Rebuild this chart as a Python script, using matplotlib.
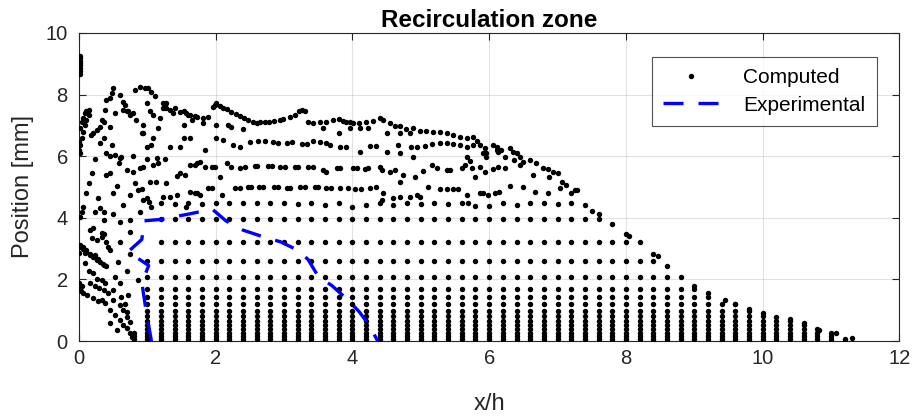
import matplotlib
matplotlib.use("Agg")
import matplotlib.pyplot as plt
import numpy as np

# ---------------- data ----------------
# regular mesh nodes inside the recirculation zone
mesh_cols = [0.8, 1.0, 1.2, 1.4, 1.6, 1.8, 2.0, 2.2, 2.4, 2.6, 2.8, 3.0, 3.2, 3.4, 3.6,
             3.8, 4.0, 4.2, 4.4, 4.6, 4.8, 5.0, 5.2, 5.4, 5.6, 5.8, 6.0, 6.2, 6.4, 6.6,
             6.8, 7.0, 7.2, 7.4, 7.6, 7.8, 8.0, 8.2, 8.4, 8.6, 8.8, 9.0, 9.2, 9.4, 9.6,
             9.8, 10.0, 10.2, 10.4, 10.6, 10.8, 11.0, 11.2]
mesh_rows = [0.0, 0.07, 0.16, 0.27, 0.38, 0.52, 0.66, 0.81, 0.98, 1.19, 1.42, 1.69,
             2.07, 2.60, 3.22, 3.95]
row_xmin = [0.8, 0.8, 0.8, 0.8, 1.0, 1.0, 1.0, 1.0, 1.0, 1.0, 1.0, 1.0, 1.0, 1.0, 1.2, 1.2]
row_xmax = [11.2, 11.2, 11.0, 11.0, 10.8, 10.6, 10.4, 10.0, 9.8, 9.6, 9.2, 9.0, 8.8, 8.4, 8.2, 7.6]

# off-grid points along the right-hand boundary
edge_x = [11.3, 11.07, 10.83, 10.6, 10.4, 10.2, 10.0, 9.8, 9.6, 9.45, 9.2, 9.0, 8.6, 8.47,
          8.4, 8.05, 8.0, 7.8, 7.6, 7.5, 7.4, 7.2, 7.25]
edge_y = [0.1, 0.27, 0.36, 0.59, 0.71, 0.77, 0.9, 1.03, 1.2, 1.33, 1.55, 1.78, 2.43, 2.75,
          2.82, 3.4, 3.46, 3.79, 4.12, 4.23, 4.41, 4.79, 4.9]

# row near y = 4.5
band45_x = [1.2, 1.4, 1.6, 1.8, 2.0, 2.2, 2.4, 2.6, 2.8, 3.0, 3.2, 3.4, 3.6, 3.8, 4.0, 4.2,
            4.4, 4.6, 4.8, 5.0, 5.2, 5.4, 5.6, 5.8, 6.0, 6.2, 6.4, 6.6, 6.8, 7.0, 7.2]
band45_y = [4.47, 4.45, 4.47, 4.44, 4.47, 4.47, 4.49, 4.47, 4.47, 4.47, 4.45, 4.47, 4.42, 4.47,
            4.36, 4.42, 4.47, 4.42, 4.47, 4.45, 4.47, 4.44, 4.47, 4.38, 4.38, 4.47, 4.41, 4.49,
            4.47, 4.45, 4.49]

# row near y = 5.0
band50_x = [1.62, 1.72, 1.77, 1.89, 1.94, 2.09, 2.28, 2.35, 2.47, 2.52, 2.64, 2.69, 2.86, 2.91,
            3.04, 3.08, 3.23, 3.3, 3.45, 3.5, 3.62, 3.69, 3.82, 3.94, 4.04, 4.13, 4.25, 4.35,
            4.45, 4.43, 4.6, 4.69, 4.84, 4.94, 4.99, 5.11, 5.28, 5.38, 5.47, 5.55, 5.67, 5.69,
            5.86, 5.91, 5.98, 6.08, 6.15, 6.3, 6.5, 6.67, 6.86, 7.28]
band50_y = [4.85, 4.79, 4.74, 4.96, 4.96, 4.74, 4.96, 4.96, 4.99, 4.99, 4.99, 4.99, 4.99, 4.99,
            4.96, 4.96, 4.99, 4.99, 5.01, 4.99, 4.96, 4.96, 4.96, 4.96, 4.94, 4.93, 4.96, 5.01,
            4.79, 4.58, 4.63, 4.68, 4.68, 4.74, 4.68, 5.01, 4.94, 4.94, 4.94, 4.94, 4.74, 4.47,
            4.79, 4.82, 4.74, 4.79, 4.85, 5.03, 5.01, 4.85, 4.82, 4.9]

# row near y = 5.6
band56_x = [1.62, 1.72, 1.77, 1.84, 1.94, 1.99, 2.06, 2.16, 2.23, 2.35, 2.43, 2.57, 2.6, 2.77,
            2.82, 2.94, 3.01, 3.16, 3.21, 3.35, 3.43, 3.57, 3.62, 3.77, 3.82, 4.01, 4.06, 4.18,
            4.23, 4.4, 4.43, 4.55, 4.62, 4.69, 4.74, 4.91, 5.03, 5.16, 5.23, 5.38, 5.43, 5.6,
            5.65, 5.75, 5.79, 5.86, 5.94, 6.06, 6.13, 6.23]
band56_y = [5.72, 5.77, 5.82, 5.66, 5.64, 5.64, 5.33, 5.77, 5.64, 5.61, 5.64, 5.68, 5.68, 5.68,
            5.68, 5.64, 5.64, 5.64, 5.64, 5.64, 5.64, 5.55, 5.5, 5.61, 5.6, 5.6, 5.6, 5.57,
            5.6, 5.64, 5.55, 5.5, 5.55, 5.17, 5.39, 5.34, 5.52, 5.71, 5.6, 5.55, 5.55, 5.6,
            5.71, 5.6, 5.34, 5.66, 5.5, 5.57, 5.64, 5.62]

# row near y = 6.4
band64_x = [1.84, 2.01, 2.11, 2.26, 2.35, 2.5, 2.62, 2.72, 2.84, 2.91, 3.04, 3.11, 3.26, 3.33,
            3.43, 3.52, 3.62, 3.67, 3.82, 3.91, 4.11, 4.25, 4.35, 4.5, 4.67, 4.69, 4.86, 4.94,
            5.06, 5.16, 5.28, 5.38, 5.47, 5.57, 5.67, 5.77, 5.94, 5.96, 6.11, 6.13, 4.89, 5.67,
            5.72]
band64_y = [6.2, 6.58, 6.52, 6.36, 6.31, 6.45, 6.49, 6.49, 6.47, 6.44, 6.44, 6.47, 6.40, 6.40,
            6.50, 6.47, 6.42, 6.36, 6.31, 6.31, 6.15, 6.33, 6.33, 6.15, 6.36, 6.09, 6.31, 6.31,
            6.33, 6.39, 6.42, 6.42, 6.4, 6.36, 6.31, 6.36, 6.26, 6.09, 6.31, 6.15, 5.98, 5.98,
            5.85]

# points just below the crest
sub_x = [1.82, 2.01, 2.18, 2.23, 2.4, 3.57, 3.81, 3.96, 4.11, 4.23, 4.5, 4.69, 4.84, 5.91,
         5.96, 6.23, 6.37, 6.45, 6.64, 6.88, 7.04]
sub_y = [7.07, 7.01, 7.01, 6.96, 6.87, 6.9, 6.74, 6.9, 6.9, 6.9, 6.74, 6.74, 6.74, 6.09,
         5.98, 5.98, 5.88, 5.72, 5.39, 5.34, 4.96]

# upper crest of the zone
crest_x = [1.23, 1.28, 1.40, 1.48, 1.57, 1.62, 1.72, 1.82, 1.89, 1.96, 1.99, 2.01, 2.06, 2.11,
           2.16, 2.23, 2.3, 2.35, 2.41, 2.47, 2.55, 2.6, 2.65, 2.72, 2.78, 2.86, 2.94, 2.99,
           3.08, 3.16, 3.22, 3.26, 3.3, 3.35, 3.43, 3.52, 3.62, 3.72, 3.81, 3.86, 3.91, 3.96,
           4.01, 4.1, 4.2, 4.3, 4.4, 4.45, 4.55, 4.62, 4.7, 4.79, 4.89, 4.99, 5.08, 5.18,
           5.28, 5.38, 5.47, 5.57, 5.67, 5.77, 5.82, 5.86, 6.06, 6.11, 6.18, 6.3, 6.35, 6.4,
           6.45, 6.5, 6.6, 6.69, 6.79, 6.86, 6.94, 7.01, 7.06, 7.13]
crest_y = [7.72, 7.55, 7.55, 7.44, 7.39, 7.34, 7.28, 7.23, 7.28, 7.61, 7.66, 7.72, 7.62, 7.55,
           7.52, 7.44, 7.36, 7.3, 7.25, 7.18, 7.1, 7.07, 7.12, 7.1, 7.12, 7.15, 7.18, 7.2,
           7.28, 7.34, 7.45, 7.5, 7.46, 7.12, 7.07, 7.1, 7.12, 7.18, 7.2, 7.15, 7.12, 7.1,
           7.07, 7.07, 7.1, 7.13, 7.23, 7.18, 7.07, 6.98, 6.98, 6.87, 6.9, 6.83, 6.83, 6.79,
           6.79, 6.74, 6.69, 6.63, 6.58, 6.63, 6.5, 6.36, 6.36, 6.2, 6.2, 6.26, 6.15, 6.09,
           5.98, 5.82, 5.88, 5.79, 5.6, 5.57, 5.5, 5.44, 5.17, 5.06]

# scattered points in the upper-left part (x < 1.8)
left_up_x = [0.0, 0.01, 0.04, 0.06, 0.09, 0.11, 0.14, 0.005, 0.015, 0.04, 0.06, 0.09, 0.11,
             0.14, 0.17, 0.21, 0.26, 0.31, 0.33, 0.36, 0.38, 0.40, 0.45, 0.48, 0.50, 0.31,
             0.36, 0.45, 0.53, 0.6, 0.65, 0.65, 0.67, 0.70, 0.72, 0.75, 0.79, 0.84, 0.82,
             0.89, 0.96, 1.01, 1.06, 1.11, 0.94, 1.0, 1.04, 1.09, 1.18, 1.26, 1.33, 1.38,
             1.53, 1.6, 1.65, 1.53, 1.16, 1.09, 0.99, 0.48, 0.40, 0.62, 1.06, 1.33, 1.48, 1.53,
             1.62, 1.7, 0.92, 0.94, 1.23, 1.28,
             0.015, 0.23, 0.45, 0.53, 0.6, 0.79, 0.99, 1.14, 1.26, 1.7, 0.19, 0.40, 0.45, 0.58,
             0.70, 0.79, 0.89, 0.94, 1.09, 1.16, 1.43, 1.48, 1.55, 0.14, 0.55, 0.82, 1.04,
             1.12, 1.28, 0.11, 0.28, 0.50, 0.75, 0.87, 0.92, 0.94, 0.99, 1.06, 1.02, 1.23,
             1.33, 1.43, 1.57, 1.7, 0.06, 0.04, 0.015, 0.23, 0.31, 0.36, 0.5, 0.65, 0.89,
             0.21, 0.36, 0.33, 0.75, 0.75, 0.6, 0.6]
left_up_y = [6.2, 6.36, 6.58, 6.8, 7.01, 7.18, 7.34, 6.45, 6.9, 7.1, 7.25, 7.4, 7.45,
             7.5, 6.7, 6.74, 6.85, 6.96, 7.18, 7.12, 7.5, 7.83, 7.88, 8.04, 8.2, 6.42,
             6.58, 6.96, 7.39, 7.99, 7.77, 7.5, 7.66, 7.45, 7.45, 7.34, 7.39, 7.18, 8.15,
             8.26, 8.2, 8.2, 8.09, 7.95, 7.01, 7.71, 7.45, 7.34, 7.23, 7.66, 7.5, 7.39,
             7.45, 7.34, 7.18, 7.01, 6.9, 6.58, 6.31, 6.36, 6.09, 5.98, 6.36, 6.31, 6.31, 6.58,
             6.58, 7.29, 6.74, 6.74, 7.55, 7.72,
             6.09, 5.9, 6.01, 6.04, 5.95, 5.99, 5.9, 5.93, 5.9, 5.71, 5.44, 5.39, 5.45, 5.77,
             5.55, 5.5, 5.61, 5.66, 5.71, 5.77, 5.36, 5.44, 5.39, 5.12, 5.03, 5.12, 5.17,
             5.15, 5.12, 4.79, 4.63, 4.82, 4.74, 4.9, 4.92, 4.58, 4.63, 4.36, 4.5, 4.69,
             4.69, 4.74, 4.36, 4.79, 4.36, 4.2, 4.04, 4.2, 4.31, 4.2, 4.14, 4.42, 4.2,
             3.66, 3.93, 3.5, 3.93, 3.55, 3.22, 3.85]

# cluster on the wall near y = 9
wall_x = [0.01, 0.02, 0.01, 0.02, 0.01, 0.02, 0.01, 0.02]
wall_y = [8.65, 8.75, 8.85, 8.95, 9.03, 9.1, 9.18, 9.25]

# scattered points in the lower-left corner (x < 1)
left_low_x = [0.0, 0.03, 0.06, 0.12, 0.2, 0.28, 0.33, 0.38, 0.45, 0.52, 0.6, 0.65, 0.70, 0.74,
              0.78, 0.16, 0.24, 0.30, 0.36, 0.43, 0.5, 0.6, 0.65, 0.70, 0.75, 0.0, 0.05,
              0.09, 0.14, 0.20, 0.26, 0.33, 0.38, 0.50, 0.62, 0.67, 0.70, 0.02, 0.06, 0.11,
              0.16, 0.21, 0.26, 0.31, 0.36, 0.005, 0.09, 0.16, 0.22, 0.28, 0.35, 0.40, 0.57,
              0.74, 0.53, 0.70, 0.87, 0.16, 0.19, 0.26, 0.33, 0.36, 0.40, 0.43, 0.45, 0.01,
              0.06, 0.11, 0.23, 0.6, 0.72, 0.55, 0.45]
left_low_y = [1.68, 1.62, 1.56, 1.5, 1.4, 1.3, 1.33, 1.23, 1.01, 0.84, 0.68, 0.52, 0.41, 0.27,
              0.12, 1.87, 1.78, 1.71, 1.65, 1.55, 1.33, 1.17, 1.01, 0.79, 0.63, 1.87, 1.8,
              2.52, 2.28, 2.2, 2.03, 1.98, 1.87, 1.65, 1.44, 1.22, 0.95, 3.06, 2.98, 2.9,
              2.8, 2.74, 2.63, 2.58, 2.47, 2.85, 2.87, 2.82, 2.74, 2.65, 2.5, 2.44, 2.57,
              2.83, 2.09, 2.28, 1.98, 3.6, 3.33, 3.28, 3.38, 3.49, 3.22, 3.06, 2.95, 3.11,
              3.06, 2.95, 2.79, 1.9, 1.5, 0.35, 0.6]

# experimental reattachment contour
exp_x = [1.06, 0.98, 0.92, 1.02, 0.72, 0.92, 0.95, 1.2, 1.6, 1.95, 2.15, 2.4, 2.7, 2.95,
         3.2, 3.35, 3.5, 3.7, 3.95, 4.1, 4.25, 4.37]
exp_y = [0.0, 1.0, 1.9, 2.45, 2.9, 3.3, 3.9, 3.95, 4.12, 4.28, 3.9, 3.6, 3.38, 3.22,
         2.95, 2.65, 2.1, 1.8, 1.3, 0.95, 0.5, 0.0]

# ---------------- assemble computed points ----------------
comp_x, comp_y = [], []
cols = np.array(mesh_cols)
for yr, lo, hi in zip(mesh_rows, row_xmin, row_xmax):
    sel = cols[(cols >= lo - 1e-9) & (cols <= hi + 1e-9)]
    comp_x.extend(sel.tolist())
    comp_y.extend([yr] * len(sel))
for gx, gy in [(edge_x, edge_y), (band45_x, band45_y), (band50_x, band50_y),
               (band56_x, band56_y), (band64_x, band64_y), (sub_x, sub_y),
               (crest_x, crest_y), (left_up_x, left_up_y), (wall_x, wall_y),
               (left_low_x, left_low_y)]:
    comp_x.extend(gx)
    comp_y.extend(gy)

# ---------------- plot ----------------
plt.rcParams['font.family'] = ['Liberation Sans', 'DejaVu Sans']
fig = plt.figure(figsize=(9.14, 4.16), dpi=100)
ax = fig.add_axes([0.0864, 0.180, 0.8976, 0.741])

axc = (0.15, 0.15, 0.15)
ax.plot(comp_x, comp_y, linestyle='none', marker='o', markersize=3.9,
        color='black', markeredgewidth=0, label='Computed', zorder=3)
ax.plot(exp_x, exp_y, color='#0000ff', linewidth=2.4, dashes=(6, 4.5),
        label='Experimental', zorder=4)

ax.set_xlim(0, 12)
ax.set_ylim(0, 10)
ax.set_xticks([0, 2, 4, 6, 8, 10, 12])
ax.set_yticks([0, 2, 4, 6, 8, 10])
ax.grid(True, color=(0.15, 0.15, 0.15), alpha=0.13, linewidth=0.8)
ax.set_axisbelow(True)
ax.tick_params(direction='in', length=5, width=0.8, colors=axc, labelsize=14.5,
               top=True, right=True)
ax.tick_params(axis='x', pad=6)
ax.tick_params(axis='y', pad=8)
for s in ax.spines.values():
    s.set_color(axc)
    s.set_linewidth(0.8)

ax.set_title('Recirculation zone', fontsize=17.5, fontweight='bold', pad=4)
ax.set_xlabel('x/h', fontsize=17, color=axc, labelpad=18)
ax.set_ylabel('Position [mm]', fontsize=17, color=axc, labelpad=8)

leg = ax.legend(loc='upper right', bbox_to_anchor=(0.9726, 0.922), borderaxespad=0,
                fontsize=15, handlelength=2.7, handletextpad=1.15, frameon=True,
                fancybox=False, borderpad=0.55, labelspacing=0.4)
leg.get_frame().set_edgecolor(axc)
leg.get_frame().set_linewidth(0.8)
for t in leg.get_texts():
    t.set_color('black')

fig.savefig('out.png', dpi=100)
